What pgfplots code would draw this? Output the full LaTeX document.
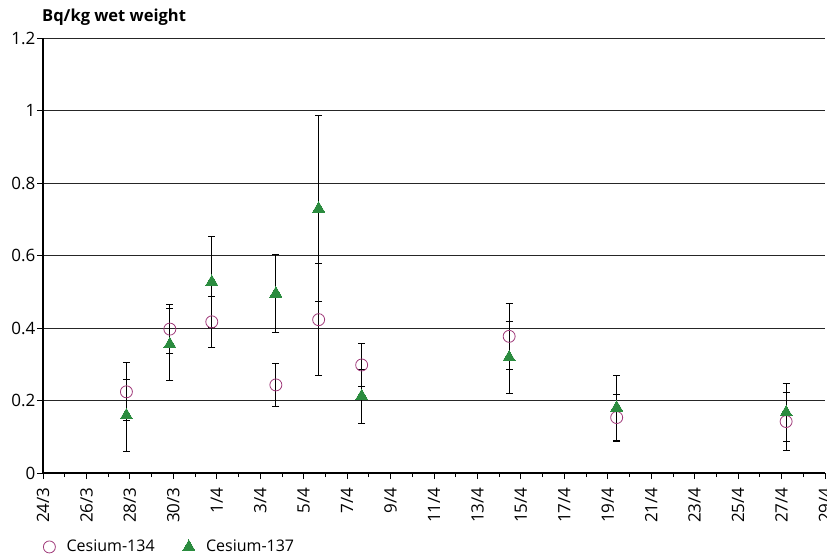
\documentclass[border=0pt]{standalone}
\usepackage{pgfplots}
\pgfplotsset{compat=1.18}
\usepackage{pgfplotstable}
\usepackage{fontspec}
\setmainfont{Open Sans}
\definecolor{cs134}{HTML}{A03A7A}
\definecolor{cs137}{HTML}{2B8C3F}
\pgfplotstableread{
x y e
3.84 0.224 0.08
5.84 0.397 0.068
7.77 0.417 0.07
10.72 0.243 0.06
12.69 0.423 0.155
14.67 0.298 0.06
21.46 0.377 0.09
26.41 0.153 0.065
34.21 0.142 0.08
}\csa
\pgfplotstableread{
x y e
3.84 0.159 0.10
5.84 0.355 0.10
7.77 0.527 0.125
10.72 0.495 0.108
12.69 0.729 0.256
14.67 0.212 0.075
21.46 0.319 0.10
26.41 0.18 0.09
34.21 0.167 0.08
}\csb
\begin{document}
\fontsize{16}{19}\selectfont
\begin{tikzpicture}
\begin{axis}[name=ax, at={(0pt,0pt)}, anchor=south west,
 width=782pt, height=435pt, scale only axis,
 xmin=0, xmax=36, ymin=0, ymax=1.2,
 axis lines=left, axis line style={-, line width=1.2pt},
 xtick={0,2,...,36},
 xticklabels={24/3,26/3,28/3,30/3,1/4,3/4,5/4,7/4,9/4,11/4,13/4,15/4,17/4,19/4,21/4,23/4,25/4,27/4,29/4},
 minor xtick={1,3,...,35},
 ytick={0,0.2,0.4,0.6,0.8,1,1.2},
 yticklabels={0,0.2,0.4,0.6,0.8,1,1.2},
 ymajorgrids, grid style={black!85, line width=1pt},
 tick style={black, line width=0.8pt},
 tick align=outside, major tick length=6pt, minor tick length=4pt,
 xticklabel shift=3pt,
 xticklabel style={rotate=90, anchor=east, font=\fontsize{17}{20}\selectfont},
 yticklabel style={font=\fontsize{17}{20}\selectfont, inner xsep=1.5pt},
 /pgf/number format/assume math mode=true,
 clip=false,
 legend columns=2,
 legend image code/.code={\draw[#1] plot coordinates {(6pt,0pt)}; \path (0pt,0pt) (21pt,0pt);},
 legend style={at={(axis description cs:0,-0.17)}, anchor=west, draw=none, fill=none, inner xsep=0pt,
   font=\fontsize{16}{19}\selectfont,
   /tikz/every even column/.append style={column sep=26pt}},
 legend cell align=left,
]
\addplot[only marks, mark=o, mark size=6pt, mark options={draw=cs134, line width=0.8pt},
  error bars/.cd, y dir=both, y explicit,
  error bar style={black, line width=0.9pt},
  error mark options={rotate=90, mark size=3.5pt, black, line width=0.9pt}]
  table[x=x, y=y, y error=e]{\csa};
\addlegendentry{Cesium-134}
\addplot[only marks, mark=triangle*, mark size=7pt, mark options={draw=cs137, fill=cs137, line width=0pt},
  error bars/.cd, y dir=both, y explicit,
  error bar style={black, line width=0.9pt},
  error mark options={rotate=90, mark size=3.5pt, black, line width=0.9pt}]
  table[x=x, y=y, y error=e]{\csb};
\addlegendentry{Cesium-137}
\node[anchor=base west, inner sep=0pt, font=\fontsize{16.5}{19}\selectfont\bfseries] at ([xshift=-1pt, yshift=17pt]rel axis cs:0,1) {Bq/kg wet weight};
\end{axis}
\pgfresetboundingbox
\path[use as bounding box] ([xshift=-43pt,yshift=-85pt]ax.south west) rectangle ([xshift=2pt,yshift=38pt]ax.north east);
\end{tikzpicture}
\end{document}
